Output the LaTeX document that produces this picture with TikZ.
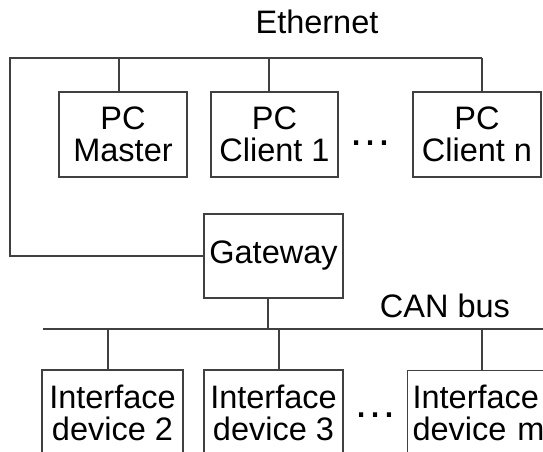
\documentclass[tikz,border=0pt]{standalone}
\usepackage{fontspec}
\setmainfont{Liberation Sans}
\usepackage{tikz}

\tikzset{
  unit/.style={draw=black!75, line width=1.1pt, inner sep=0pt, align=center,
    minimum height=85pt, font=\fontsize{32.5}{32}\selectfont},
  wire/.style={draw=black!75, line width=1.1pt},
  label/.style={inner sep=0pt, font=\fontsize{32.5}{32}\selectfont},
  gap/.style={inner sep=0pt, font=\fontsize{44}{44}\selectfont}
}

\begin{document}
\begin{tikzpicture}[x=1pt, y=-1pt]

    \useasboundingbox (0,0) rectangle (543,452);
    \clip (0,0) rectangle (543,452);

    % PCs
    \node[unit, minimum width=128pt] (master) at (123, 134.5) {PC\\Master};
    \node[unit, minimum width=127pt] (client1) at (274.5, 134.5) {PC\\Client 1};
    \node[unit, minimum width=128pt] (clientn) at (477, 134.5) {PC\\Client n};
    \node[gap] (pcdots) at (370.5, 143) {…};

    % Gateway
    \node[unit, minimum width=139pt, minimum height=84pt] (gateway) at (273.5, 256) {Gateway};

    % Interface devices
    \node[unit, minimum width=141pt] (dev2) at (112.5, 412.5) {Interface\\device 2};
    \node[unit, minimum width=139pt] (dev3) at (273.5, 412.5) {Interface\\device 3};
    \node[unit, align=left, text width=140pt, inner xsep=5pt, anchor=north west] (devm) at (407, 370) {Interface\\device m};
    \node[gap] (devdots) at (375.5, 415) {…};

    % Bus names
    \node[label, anchor=base] (eth) at (317, 34) {Ethernet};
    \node[label, anchor=base] (can) at (445, 317) {CAN bus};

    % Ethernet
    \coordinate (E0) at (10, 58);
    \coordinate (E1) at (119, 58);
    \coordinate (E2) at (269, 58);
    \coordinate (E3) at (482, 58);
    \draw[wire] (gateway.west) -| (E0) -- (E3);
    \foreach \c/\n in {E1/master, E2/client1, E3/clientn} {
        \draw[wire] (\c) -- (\c |- \n.north);
    }

    % CAN bus
    \coordinate (C0) at (43, 329);
    \coordinate (C1) at (108, 329);
    \coordinate (C2) at (279, 329);
    \coordinate (C3) at (482, 329);
    \coordinate (C4) at (545, 329);
    \coordinate (CG) at (268, 329);
    \draw[wire] (C0) -- (C4);
    \draw[wire] (CG) -- (CG |- gateway.south);
    \foreach \c/\n in {C1/dev2, C2/dev3, C3/devm} {
        \draw[wire] (\c) -- (\c |- \n.north);
    }

\end{tikzpicture}
\end{document}
